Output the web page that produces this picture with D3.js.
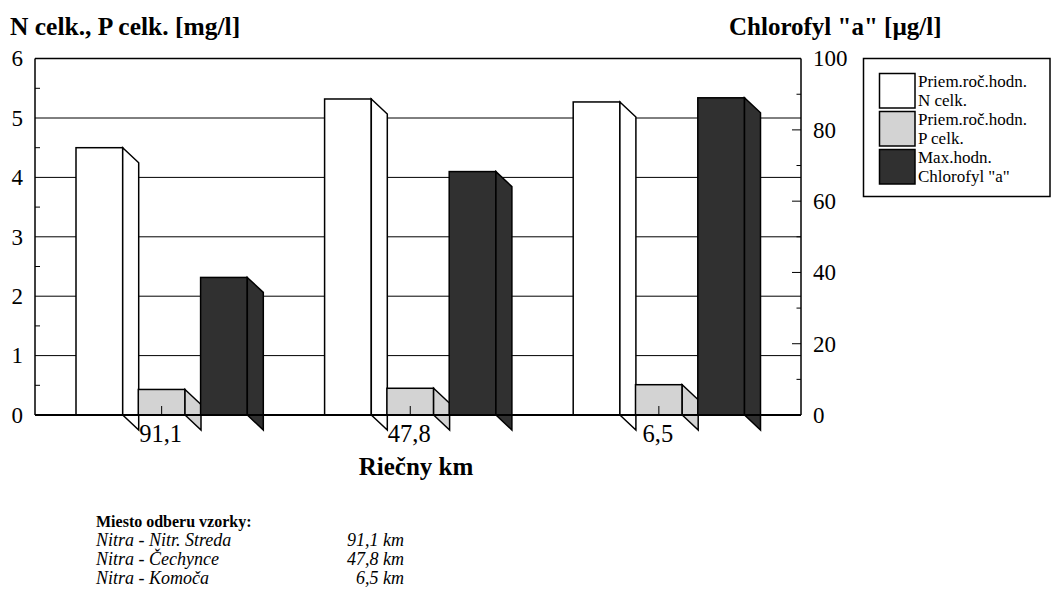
<!DOCTYPE html>
<html>
<head>
<meta charset="utf-8">
<script src="https://cdn.jsdelivr.net/npm/d3@7/dist/d3.min.js"></script>
<style>
  html, body { margin: 0; padding: 0; background: #fff; }
  svg { display: block; }
</style>
</head>
<body>
<svg id="chart" width="1056" height="613"></svg>
<script>
// ---- data ----
const categories = ["91,1", "47,8", "6,5"];
const nValues = [4.5, 5.32, 5.27];      // Priem.roč.hodn. N celk. [mg/l]
const pValues = [0.43, 0.45, 0.51];     // Priem.roč.hodn. P celk. [mg/l]
const chlValues = [38.6, 68.3, 89.0];   // Max.hodn. Chlorofyl "a" [µg/l]
const seriesNames = [["Priem.roč.hodn.", "N celk."], ["Priem.roč.hodn.", "P celk."], ["Max.hodn.", "Chlorofyl \"a\""]];
const leftTicks = [0, 1, 2, 3, 4, 5, 6];
const rightTicks = [0, 20, 40, 60, 80, 100];
const sites = ["Nitra - Nitr. Streda", "Nitra - Čechynce", "Nitra - Komoča"];
const siteKm = ["91,1 km", "47,8 km", "6,5 km"];

// ---- layout ----
const FONT = "Liberation Serif";
const svg = d3.select("#chart");
const L = 35, R = 801, T = 58.6, B = 415;
const colors = ["#ffffff", "#d3d3d3", "#303030"];
const depthX = 16, depthY = 15;

const yL = d3.scaleLinear().domain([0, 6]).range([B, T]);
const yR = d3.scaleLinear().domain([0, 100]).range([B, T]);
const x0 = d3.scaleBand().domain(categories).range([L, L + 3 * 248.6]).padding(0);
const x1 = d3.scaleBand().domain([0, 1, 2]).range([41, 41 + 3 * 62.3]).padding(0);
const frontW = 46.7;

// gridlines
svg.append("g").selectAll("line").data(leftTicks.filter(d => d > 0 && d < 6)).join("line")
  .attr("x1", L).attr("x2", R).attr("y1", d => yL(d)).attr("y2", d => yL(d))
  .attr("stroke", "#000").attr("stroke-width", 1);

// bars
const series = [
  { vals: nValues, scale: yL },
  { vals: pValues, scale: yL },
  { vals: chlValues, scale: yR }
];
const barsG = svg.append("g");
categories.forEach((c, ci) => {
  series.forEach((s, si) => {
    const xa = x0(c) + x1(si);
    const xb = xa + frontW;
    const yt = s.scale(s.vals[ci]);
    const yb = s.scale(0);
    barsG.append("rect")
      .attr("x", xa).attr("y", yt).attr("width", frontW).attr("height", yb - yt)
      .attr("fill", colors[si]).attr("stroke", "#000").attr("stroke-width", 1.5);
    barsG.append("path")
      .attr("d", `M${xb},${yt}L${xb + depthX},${yt + depthY}L${xb + depthX},${yb + depthY}L${xb},${yb}Z`)
      .attr("fill", colors[si]).attr("stroke", "#000").attr("stroke-width", 1.5).attr("stroke-linejoin", "miter");
  });
});

// frame
svg.append("line").attr("x1", L).attr("x2", R).attr("y1", T).attr("y2", T).attr("stroke", "#000").attr("stroke-width", 1.5);
svg.append("line").attr("x1", L).attr("x2", L).attr("y1", T).attr("y2", B).attr("stroke", "#000").attr("stroke-width", 1.5);
svg.append("line").attr("x1", R).attr("x2", R).attr("y1", T).attr("y2", B).attr("stroke", "#000").attr("stroke-width", 1.5);
svg.append("line").attr("x1", L).attr("x2", R).attr("y1", B).attr("y2", B).attr("stroke", "#000").attr("stroke-width", 2);

// left axis
const leftAxis = d3.axisLeft(yL).tickValues(leftTicks).tickSize(0).tickPadding(12).tickFormat(d3.format("d"));
const gl = svg.append("g").attr("transform", `translate(${L},0)`).call(leftAxis)
  .attr("font-family", FONT).attr("font-size", 23);
gl.select(".domain").remove();
// left minor ticks
svg.append("g").selectAll("line").data(d3.range(0.5, 6, 1)).join("line")
  .attr("x1", L).attr("x2", L + 5).attr("y1", d => yL(d)).attr("y2", d => yL(d))
  .attr("stroke", "#000").attr("stroke-width", 1);

// right axis
const rightAxis = d3.axisRight(yR).tickValues(rightTicks).tickSize(0).tickPadding(12);
const gr = svg.append("g").attr("transform", `translate(${R},0)`).call(rightAxis)
  .attr("font-family", FONT).attr("font-size", 23);
gr.select(".domain").remove();
svg.append("g").selectAll("line").data(d3.range(10, 100, 10)).join("line")
  .attr("x1", d => R - (d % 20 === 0 ? 9 : 4.5)).attr("x2", R).attr("y1", d => yR(d)).attr("y2", d => yR(d))
  .attr("stroke", "#000").attr("stroke-width", 1);

// text helper
function txt(g, x, y, s, size, opts = {}) {
  return g.append("text").attr("x", x).attr("y", y)
    .attr("font-family", FONT).attr("font-size", size)
    .attr("font-weight", opts.bold ? "bold" : "normal")
    .attr("font-style", opts.italic ? "italic" : "normal")
    .attr("text-anchor", opts.anchor || "start")
    .attr("fill", "#000").text(s);
}

// bottom axis (category ticks at centre of P bars)
const tickX = c => x0(c) + x1(1) + frontW / 2;
svg.append("g").selectAll("line").data(categories).join("line")
  .attr("x1", tickX).attr("x2", tickX).attr("y1", B - 9).attr("y2", B)
  .attr("stroke", "#000").attr("stroke-width", 1);
const catG = svg.append("g");
categories.forEach(c => txt(catG, tickX(c) - 1, 442, c, 24.5, { anchor: "middle" }));

// axis titles
txt(svg, 10, 35, "N celk., P celk. [mg/l]", 25.5, { bold: true });
txt(svg, 729, 35, "Chlorofyl \"a\" [µg/l]", 25, { bold: true });
txt(svg, 416, 475, "Riečny km", 25, { bold: true, anchor: "middle" });

// legend
const lg = svg.append("g");
lg.append("rect").attr("x", 863.5).attr("y", 58.5).attr("width", 186.5).attr("height", 138)
  .attr("fill", "#fff").attr("stroke", "#000").attr("stroke-width", 1.5);
seriesNames.forEach((nm, i) => {
  const yy = 73.5 + i * 38;
  lg.append("rect").attr("x", 879.5).attr("y", yy).attr("width", 35.5).attr("height", 34.5)
    .attr("fill", colors[i]).attr("stroke", "#000").attr("stroke-width", 1.5);
  txt(lg, 918, yy + 13.5, nm[0], 17);
  txt(lg, 918, yy + 32.5, nm[1], 17);
});

// notes
const notes = svg.append("g");
txt(notes, 96, 527, "Miesto odberu vzorky:", 16, { bold: true });
sites.forEach((s, i) => {
  txt(notes, 96, 546 + i * 19, s, 18, { italic: true });
  txt(notes, 404, 546 + i * 19, siteKm[i], 18, { italic: true, anchor: "end" });
});
</script>
</body>
</html>
